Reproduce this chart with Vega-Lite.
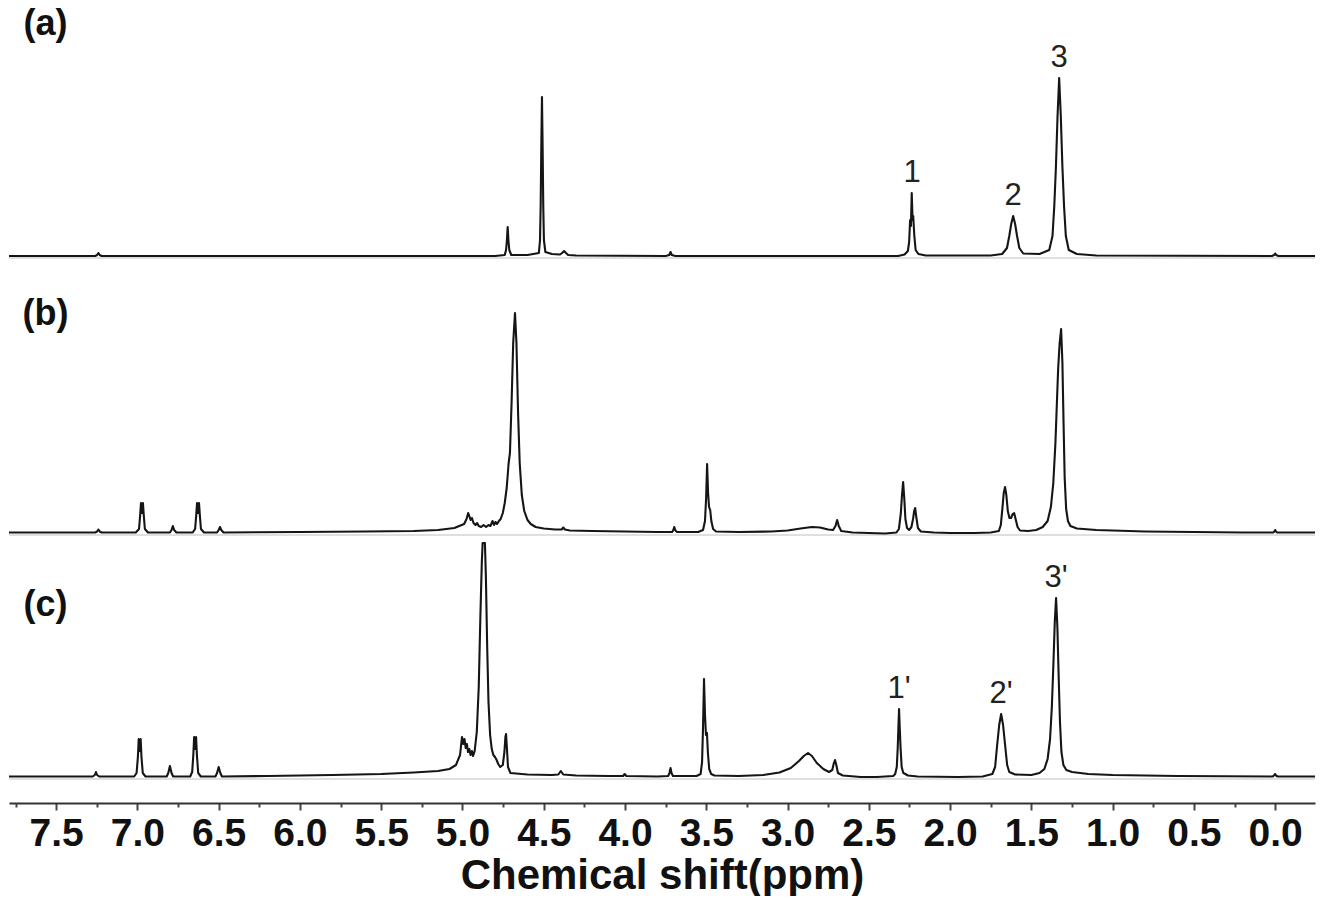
{
  "$schema": "https://vega.github.io/schema/vega-lite/v6.json",
  "background": "white",
  "padding": {"left": 7, "right": 7, "top": 0, "bottom": 0},
  "spacing": 0,
  "config": {"view": {"stroke": null}, "concat": {"spacing": 0}},
  "datasets": {
    "a": [
      {"ppm": 7.79, "intensity": 0}, {"ppm": 7.26, "intensity": 0}, {"ppm": 7.248, "intensity": 1}, {"ppm": 7.24, "intensity": 3}, {"ppm": 7.232, "intensity": 1}, {"ppm": 7.22, "intensity": 0},
      {"ppm": 4.80, "intensity": 0}, {"ppm": 4.74, "intensity": 1}, {"ppm": 4.732, "intensity": 6}, {"ppm": 4.727, "intensity": 15}, {"ppm": 4.722, "intensity": 29}, {"ppm": 4.717, "intensity": 15}, {"ppm": 4.712, "intensity": 6}, {"ppm": 4.70, "intensity": 1},
      {"ppm": 4.60, "intensity": 1}, {"ppm": 4.53, "intensity": 3}, {"ppm": 4.523, "intensity": 16}, {"ppm": 4.519, "intensity": 50}, {"ppm": 4.515, "intensity": 110}, {"ppm": 4.511, "intensity": 159}, {"ppm": 4.507, "intensity": 110}, {"ppm": 4.503, "intensity": 50}, {"ppm": 4.499, "intensity": 16}, {"ppm": 4.49, "intensity": 4}, {"ppm": 4.45, "intensity": 2},
      {"ppm": 4.40, "intensity": 1.5}, {"ppm": 4.387, "intensity": 3}, {"ppm": 4.375, "intensity": 5}, {"ppm": 4.363, "intensity": 3}, {"ppm": 4.35, "intensity": 1}, {"ppm": 4.30, "intensity": 0.5},
      {"ppm": 3.75, "intensity": 0}, {"ppm": 3.728, "intensity": 1}, {"ppm": 3.72, "intensity": 4}, {"ppm": 3.712, "intensity": 1}, {"ppm": 3.69, "intensity": 0},
      {"ppm": 2.32, "intensity": 0}, {"ppm": 2.28, "intensity": 1.5}, {"ppm": 2.26, "intensity": 5}, {"ppm": 2.252, "intensity": 14}, {"ppm": 2.246, "intensity": 36}, {"ppm": 2.241, "intensity": 30}, {"ppm": 2.236, "intensity": 63}, {"ppm": 2.231, "intensity": 36}, {"ppm": 2.227, "intensity": 40}, {"ppm": 2.22, "intensity": 20}, {"ppm": 2.212, "intensity": 6}, {"ppm": 2.195, "intensity": 2}, {"ppm": 2.15, "intensity": 0.5},
      {"ppm": 1.75, "intensity": 0.5}, {"ppm": 1.68, "intensity": 2}, {"ppm": 1.65, "intensity": 8}, {"ppm": 1.636, "intensity": 20}, {"ppm": 1.624, "intensity": 32}, {"ppm": 1.612, "intensity": 40}, {"ppm": 1.600, "intensity": 32}, {"ppm": 1.588, "intensity": 20}, {"ppm": 1.574, "intensity": 8}, {"ppm": 1.55, "intensity": 2.5},
      {"ppm": 1.45, "intensity": 2}, {"ppm": 1.39, "intensity": 6}, {"ppm": 1.37, "intensity": 20}, {"ppm": 1.359, "intensity": 50}, {"ppm": 1.349, "intensity": 89}, {"ppm": 1.339, "intensity": 140}, {"ppm": 1.329, "intensity": 178}, {"ppm": 1.319, "intensity": 140}, {"ppm": 1.309, "intensity": 89}, {"ppm": 1.299, "intensity": 50}, {"ppm": 1.288, "intensity": 20}, {"ppm": 1.27, "intensity": 6}, {"ppm": 1.22, "intensity": 2}, {"ppm": 1.1, "intensity": 0.5},
      {"ppm": 0.02, "intensity": 0}, {"ppm": 0.006, "intensity": 1}, {"ppm": 0.0, "intensity": 2.5}, {"ppm": -0.006, "intensity": 1}, {"ppm": -0.02, "intensity": 0}, {"ppm": -0.245, "intensity": 0}
    ],
    "b": [
      {"ppm": 7.79, "intensity": 0.5}, {"ppm": 7.26, "intensity": 0.5}, {"ppm": 7.248, "intensity": 1.5}, {"ppm": 7.24, "intensity": 3.5}, {"ppm": 7.232, "intensity": 1.5}, {"ppm": 7.22, "intensity": 0.5},
      {"ppm": 7.01, "intensity": 0.5}, {"ppm": 6.99, "intensity": 4}, {"ppm": 6.983, "intensity": 18}, {"ppm": 6.978, "intensity": 30}, {"ppm": 6.972, "intensity": 20}, {"ppm": 6.966, "intensity": 30}, {"ppm": 6.961, "intensity": 18}, {"ppm": 6.954, "intensity": 4}, {"ppm": 6.935, "intensity": 0.5},
      {"ppm": 6.80, "intensity": 0.5}, {"ppm": 6.79, "intensity": 3}, {"ppm": 6.782, "intensity": 7}, {"ppm": 6.774, "intensity": 3}, {"ppm": 6.76, "intensity": 0.5},
      {"ppm": 6.66, "intensity": 0.5}, {"ppm": 6.645, "intensity": 4}, {"ppm": 6.638, "intensity": 18}, {"ppm": 6.633, "intensity": 30}, {"ppm": 6.627, "intensity": 20}, {"ppm": 6.621, "intensity": 30}, {"ppm": 6.616, "intensity": 18}, {"ppm": 6.609, "intensity": 4}, {"ppm": 6.59, "intensity": 0.5},
      {"ppm": 6.51, "intensity": 0.5}, {"ppm": 6.50, "intensity": 3}, {"ppm": 6.492, "intensity": 6}, {"ppm": 6.484, "intensity": 3}, {"ppm": 6.47, "intensity": 0.5},
      {"ppm": 6.0, "intensity": 1}, {"ppm": 5.6, "intensity": 1.5}, {"ppm": 5.3, "intensity": 2}, {"ppm": 5.15, "intensity": 3}, {"ppm": 5.05, "intensity": 5}, {"ppm": 4.99, "intensity": 9}, {"ppm": 4.975, "intensity": 14}, {"ppm": 4.965, "intensity": 20}, {"ppm": 4.958, "intensity": 17}, {"ppm": 4.95, "intensity": 13}, {"ppm": 4.942, "intensity": 15}, {"ppm": 4.932, "intensity": 10}, {"ppm": 4.92, "intensity": 8}, {"ppm": 4.91, "intensity": 10}, {"ppm": 4.9, "intensity": 7}, {"ppm": 4.885, "intensity": 6}, {"ppm": 4.87, "intensity": 8}, {"ppm": 4.855, "intensity": 6}, {"ppm": 4.84, "intensity": 8}, {"ppm": 4.828, "intensity": 7}, {"ppm": 4.815, "intensity": 12}, {"ppm": 4.806, "intensity": 8}, {"ppm": 4.797, "intensity": 11}, {"ppm": 4.787, "intensity": 9}, {"ppm": 4.776, "intensity": 12}, {"ppm": 4.765, "intensity": 14}, {"ppm": 4.752, "intensity": 20}, {"ppm": 4.74, "intensity": 30}, {"ppm": 4.728, "intensity": 45}, {"ppm": 4.716, "intensity": 70}, {"ppm": 4.708, "intensity": 80}, {"ppm": 4.698, "intensity": 130}, {"ppm": 4.688, "intensity": 190}, {"ppm": 4.677, "intensity": 220}, {"ppm": 4.668, "intensity": 190}, {"ppm": 4.658, "intensity": 120}, {"ppm": 4.648, "intensity": 70}, {"ppm": 4.635, "intensity": 38}, {"ppm": 4.62, "intensity": 22}, {"ppm": 4.6, "intensity": 13}, {"ppm": 4.58, "intensity": 9}, {"ppm": 4.55, "intensity": 6}, {"ppm": 4.5, "intensity": 4.5}, {"ppm": 4.43, "intensity": 3.5}, {"ppm": 4.39, "intensity": 3.5}, {"ppm": 4.38, "intensity": 5.5}, {"ppm": 4.37, "intensity": 3.5}, {"ppm": 4.34, "intensity": 2.5}, {"ppm": 4.2, "intensity": 2}, {"ppm": 4.0, "intensity": 1.5}, {"ppm": 3.8, "intensity": 1},
      {"ppm": 3.71, "intensity": 1}, {"ppm": 3.703, "intensity": 3}, {"ppm": 3.697, "intensity": 6}, {"ppm": 3.69, "intensity": 2.5}, {"ppm": 3.68, "intensity": 1},
      {"ppm": 3.55, "intensity": 1}, {"ppm": 3.52, "intensity": 3}, {"ppm": 3.508, "intensity": 12}, {"ppm": 3.501, "intensity": 35}, {"ppm": 3.495, "intensity": 69}, {"ppm": 3.489, "intensity": 40}, {"ppm": 3.483, "intensity": 26}, {"ppm": 3.476, "intensity": 23}, {"ppm": 3.469, "intensity": 12}, {"ppm": 3.458, "intensity": 4}, {"ppm": 3.44, "intensity": 1.5},
      {"ppm": 3.3, "intensity": 1}, {"ppm": 3.1, "intensity": 1.5}, {"ppm": 3.0, "intensity": 2.5}, {"ppm": 2.92, "intensity": 4.5}, {"ppm": 2.85, "intensity": 6}, {"ppm": 2.8, "intensity": 5.5}, {"ppm": 2.75, "intensity": 3.5}, {"ppm": 2.72, "intensity": 3}, {"ppm": 2.705, "intensity": 7}, {"ppm": 2.695, "intensity": 13}, {"ppm": 2.685, "intensity": 7}, {"ppm": 2.67, "intensity": 2}, {"ppm": 2.6, "intensity": 0.5}, {"ppm": 2.5, "intensity": 0}, {"ppm": 2.4, "intensity": -0.5}, {"ppm": 2.33, "intensity": 0.5},
      {"ppm": 2.315, "intensity": 4}, {"ppm": 2.303, "intensity": 20}, {"ppm": 2.296, "intensity": 38}, {"ppm": 2.289, "intensity": 51}, {"ppm": 2.282, "intensity": 35}, {"ppm": 2.275, "intensity": 14}, {"ppm": 2.265, "intensity": 5}, {"ppm": 2.252, "intensity": 3}, {"ppm": 2.238, "intensity": 6}, {"ppm": 2.228, "intensity": 14}, {"ppm": 2.221, "intensity": 22}, {"ppm": 2.215, "intensity": 25}, {"ppm": 2.208, "intensity": 16}, {"ppm": 2.198, "intensity": 5}, {"ppm": 2.18, "intensity": 1.5}, {"ppm": 2.1, "intensity": 0.5}, {"ppm": 2.0, "intensity": 0}, {"ppm": 1.85, "intensity": 0}, {"ppm": 1.75, "intensity": 0.5},
      {"ppm": 1.70, "intensity": 2}, {"ppm": 1.688, "intensity": 8}, {"ppm": 1.678, "intensity": 25}, {"ppm": 1.67, "intensity": 40}, {"ppm": 1.662, "intensity": 46}, {"ppm": 1.654, "intensity": 38}, {"ppm": 1.645, "intensity": 22}, {"ppm": 1.635, "intensity": 15}, {"ppm": 1.625, "intensity": 15}, {"ppm": 1.615, "intensity": 19}, {"ppm": 1.606, "intensity": 20}, {"ppm": 1.597, "intensity": 14}, {"ppm": 1.585, "intensity": 6}, {"ppm": 1.57, "intensity": 2.5}, {"ppm": 1.52, "intensity": 2}, {"ppm": 1.47, "intensity": 3},
      {"ppm": 1.43, "intensity": 6}, {"ppm": 1.40, "intensity": 12}, {"ppm": 1.38, "intensity": 26}, {"ppm": 1.365, "intensity": 50}, {"ppm": 1.352, "intensity": 90}, {"ppm": 1.343, "intensity": 130}, {"ppm": 1.335, "intensity": 165}, {"ppm": 1.326, "intensity": 190}, {"ppm": 1.317, "intensity": 204}, {"ppm": 1.309, "intensity": 170}, {"ppm": 1.302, "intensity": 110}, {"ppm": 1.295, "intensity": 55}, {"ppm": 1.286, "intensity": 24}, {"ppm": 1.275, "intensity": 12}, {"ppm": 1.26, "intensity": 7}, {"ppm": 1.22, "intensity": 4.5}, {"ppm": 1.1, "intensity": 3}, {"ppm": 1.0, "intensity": 2.5}, {"ppm": 0.8, "intensity": 1.5}, {"ppm": 0.5, "intensity": 1}, {"ppm": 0.2, "intensity": 0.5},
      {"ppm": 0.012, "intensity": 0.5}, {"ppm": 0.005, "intensity": 1.5}, {"ppm": 0.0, "intensity": 3}, {"ppm": -0.005, "intensity": 1.5}, {"ppm": -0.012, "intensity": 0.5}, {"ppm": -0.245, "intensity": 0.5}
    ],
    "c": [
      {"ppm": 7.79, "intensity": 0.5}, {"ppm": 7.275, "intensity": 0.5}, {"ppm": 7.262, "intensity": 2}, {"ppm": 7.255, "intensity": 5}, {"ppm": 7.248, "intensity": 2}, {"ppm": 7.235, "intensity": 0.5},
      {"ppm": 7.02, "intensity": 0.5}, {"ppm": 7.005, "intensity": 4}, {"ppm": 6.997, "intensity": 20}, {"ppm": 6.992, "intensity": 38}, {"ppm": 6.986, "intensity": 26}, {"ppm": 6.98, "intensity": 38}, {"ppm": 6.975, "intensity": 20}, {"ppm": 6.967, "intensity": 4}, {"ppm": 6.95, "intensity": 0.5},
      {"ppm": 6.82, "intensity": 0.5}, {"ppm": 6.81, "intensity": 4}, {"ppm": 6.80, "intensity": 11}, {"ppm": 6.79, "intensity": 4}, {"ppm": 6.78, "intensity": 0.5},
      {"ppm": 6.675, "intensity": 0.5}, {"ppm": 6.663, "intensity": 5}, {"ppm": 6.656, "intensity": 22}, {"ppm": 6.651, "intensity": 40}, {"ppm": 6.645, "intensity": 28}, {"ppm": 6.639, "intensity": 40}, {"ppm": 6.634, "intensity": 22}, {"ppm": 6.626, "intensity": 4}, {"ppm": 6.61, "intensity": 0.5},
      {"ppm": 6.52, "intensity": 0.5}, {"ppm": 6.51, "intensity": 4}, {"ppm": 6.50, "intensity": 10}, {"ppm": 6.49, "intensity": 4}, {"ppm": 6.48, "intensity": 0.5},
      {"ppm": 6.2, "intensity": 1}, {"ppm": 5.8, "intensity": 2}, {"ppm": 5.5, "intensity": 3}, {"ppm": 5.3, "intensity": 4.5}, {"ppm": 5.15, "intensity": 6}, {"ppm": 5.08, "intensity": 8}, {"ppm": 5.04, "intensity": 12}, {"ppm": 5.015, "intensity": 22}, {"ppm": 5.003, "intensity": 40}, {"ppm": 4.995, "intensity": 33}, {"ppm": 4.988, "intensity": 38}, {"ppm": 4.98, "intensity": 29}, {"ppm": 4.973, "intensity": 33}, {"ppm": 4.966, "intensity": 25}, {"ppm": 4.958, "intensity": 28}, {"ppm": 4.95, "intensity": 22}, {"ppm": 4.942, "intensity": 26}, {"ppm": 4.935, "intensity": 21}, {"ppm": 4.925, "intensity": 26}, {"ppm": 4.912, "intensity": 45}, {"ppm": 4.9, "intensity": 90}, {"ppm": 4.89, "intensity": 160}, {"ppm": 4.881, "intensity": 215}, {"ppm": 4.876, "intensity": 234}, {"ppm": 4.862, "intensity": 234}, {"ppm": 4.856, "intensity": 200}, {"ppm": 4.848, "intensity": 130}, {"ppm": 4.84, "intensity": 75}, {"ppm": 4.83, "intensity": 42}, {"ppm": 4.82, "intensity": 28}, {"ppm": 4.81, "intensity": 22}, {"ppm": 4.8, "intensity": 20}, {"ppm": 4.79, "intensity": 17}, {"ppm": 4.78, "intensity": 13}, {"ppm": 4.768, "intensity": 10}, {"ppm": 4.752, "intensity": 12}, {"ppm": 4.742, "intensity": 25}, {"ppm": 4.736, "intensity": 40}, {"ppm": 4.732, "intensity": 43}, {"ppm": 4.727, "intensity": 30}, {"ppm": 4.72, "intensity": 10}, {"ppm": 4.705, "intensity": 4}, {"ppm": 4.6, "intensity": 2.5}, {"ppm": 4.45, "intensity": 2}, {"ppm": 4.41, "intensity": 2.5}, {"ppm": 4.395, "intensity": 6}, {"ppm": 4.38, "intensity": 2.5}, {"ppm": 4.3, "intensity": 1.5}, {"ppm": 4.1, "intensity": 1},
      {"ppm": 4.012, "intensity": 1}, {"ppm": 4.002, "intensity": 3}, {"ppm": 3.992, "intensity": 1}, {"ppm": 3.8, "intensity": 0.5},
      {"ppm": 3.735, "intensity": 1}, {"ppm": 3.726, "intensity": 4}, {"ppm": 3.72, "intensity": 9}, {"ppm": 3.714, "intensity": 4}, {"ppm": 3.705, "intensity": 1},
      {"ppm": 3.56, "intensity": 1}, {"ppm": 3.535, "intensity": 3}, {"ppm": 3.526, "intensity": 15}, {"ppm": 3.52, "intensity": 50}, {"ppm": 3.514, "intensity": 98}, {"ppm": 3.508, "intensity": 62}, {"ppm": 3.502, "intensity": 42}, {"ppm": 3.496, "intensity": 44}, {"ppm": 3.49, "intensity": 24}, {"ppm": 3.482, "intensity": 8}, {"ppm": 3.47, "intensity": 3}, {"ppm": 3.45, "intensity": 1.5},
      {"ppm": 3.3, "intensity": 1}, {"ppm": 3.15, "intensity": 2}, {"ppm": 3.05, "intensity": 4.5}, {"ppm": 2.98, "intensity": 9}, {"ppm": 2.93, "intensity": 16}, {"ppm": 2.9, "intensity": 21}, {"ppm": 2.874, "intensity": 24}, {"ppm": 2.85, "intensity": 21}, {"ppm": 2.82, "intensity": 14}, {"ppm": 2.78, "intensity": 8}, {"ppm": 2.745, "intensity": 5}, {"ppm": 2.725, "intensity": 7}, {"ppm": 2.715, "intensity": 14}, {"ppm": 2.708, "intensity": 17}, {"ppm": 2.7, "intensity": 12}, {"ppm": 2.69, "intensity": 4}, {"ppm": 2.66, "intensity": 1.5}, {"ppm": 2.55, "intensity": 0}, {"ppm": 2.45, "intensity": 0}, {"ppm": 2.35, "intensity": 1},
      {"ppm": 2.338, "intensity": 3}, {"ppm": 2.328, "intensity": 10}, {"ppm": 2.322, "intensity": 30}, {"ppm": 2.318, "intensity": 50}, {"ppm": 2.314, "intensity": 68}, {"ppm": 2.31, "intensity": 50}, {"ppm": 2.305, "intensity": 30}, {"ppm": 2.298, "intensity": 10}, {"ppm": 2.288, "intensity": 4}, {"ppm": 2.275, "intensity": 3}, {"ppm": 2.26, "intensity": 1.5}, {"ppm": 2.2, "intensity": 0.5}, {"ppm": 1.95, "intensity": 0}, {"ppm": 1.8, "intensity": 0.5},
      {"ppm": 1.74, "intensity": 3}, {"ppm": 1.723, "intensity": 10}, {"ppm": 1.711, "intensity": 31}, {"ppm": 1.698, "intensity": 52}, {"ppm": 1.686, "intensity": 63}, {"ppm": 1.674, "intensity": 52}, {"ppm": 1.661, "intensity": 31}, {"ppm": 1.649, "intensity": 12}, {"ppm": 1.636, "intensity": 5}, {"ppm": 1.6, "intensity": 2.5}, {"ppm": 1.5, "intensity": 2}, {"ppm": 1.45, "intensity": 4},
      {"ppm": 1.42, "intensity": 8}, {"ppm": 1.40, "intensity": 18}, {"ppm": 1.385, "intensity": 38}, {"ppm": 1.374, "intensity": 70}, {"ppm": 1.364, "intensity": 115}, {"ppm": 1.356, "intensity": 155}, {"ppm": 1.348, "intensity": 179}, {"ppm": 1.34, "intensity": 150}, {"ppm": 1.332, "intensity": 100}, {"ppm": 1.324, "intensity": 55}, {"ppm": 1.315, "intensity": 25}, {"ppm": 1.303, "intensity": 12}, {"ppm": 1.285, "intensity": 7}, {"ppm": 1.25, "intensity": 5}, {"ppm": 1.15, "intensity": 3}, {"ppm": 1.0, "intensity": 2}, {"ppm": 0.6, "intensity": 1},
      {"ppm": 0.015, "intensity": 0.5}, {"ppm": 0.005, "intensity": 2}, {"ppm": 0.0, "intensity": 3}, {"ppm": -0.005, "intensity": 1.5}, {"ppm": -0.015, "intensity": 0.5}, {"ppm": -0.245, "intensity": 0.5}
    ],
    "labels": [
      {"s": "a", "ppm": 2.234, "h": 63, "t": "1"},
      {"s": "a", "ppm": 1.612, "h": 40, "t": "2"},
      {"s": "a", "ppm": 1.33, "h": 178, "t": "3"},
      {"s": "c", "ppm": 2.314, "h": 68, "t": "1'"},
      {"s": "c", "ppm": 1.686, "h": 63, "t": "2'"},
      {"s": "c", "ppm": 1.348, "h": 179, "t": "3'"}
    ]
  },
  "vconcat": [
    {
      "width": 1306, "height": 270,
      "layer": [
        {"data": {"values": [{}]}, "mark": {"type": "rule", "color": "#d4d4d4", "strokeWidth": 1.5},
         "encoding": {"y": {"datum": -2, "type": "quantitative", "scale": {"domain": [-14, 256], "nice": false, "zero": false}, "axis": null}}},
        {"data": {"name": "a"}, "mark": {"type": "line", "color": "#151515", "strokeWidth": 2.1, "strokeJoin": "round"},
         "encoding": {
           "x": {"field": "ppm", "type": "quantitative", "scale": {"domain": [-0.245, 7.79], "reverse": true, "nice": false, "zero": false}, "axis": null},
           "y": {"field": "intensity", "type": "quantitative", "scale": {"domain": [-14, 256], "nice": false, "zero": false}, "axis": null}}},
        {"data": {"name": "labels"}, "transform": [{"filter": "datum.s === 'a'"}],
         "mark": {"type": "text", "font": "Liberation Sans", "fontSize": 31, "color": "#222", "align": "center", "baseline": "alphabetic", "dy": -11},
         "encoding": {
           "x": {"field": "ppm", "type": "quantitative", "scale": {"domain": [-0.245, 7.79], "reverse": true, "nice": false, "zero": false}, "axis": null},
           "y": {"field": "h", "type": "quantitative", "scale": {"domain": [-14, 256], "nice": false, "zero": false}, "axis": null},
           "text": {"field": "t"}}},
        {"data": {"values": [{}]}, "mark": {"type": "text", "text": "(a)", "font": "Liberation Sans", "fontWeight": "bold", "fontSize": 36, "color": "#111", "align": "center", "baseline": "middle"},
         "encoding": {
           "x": {"datum": 7.566, "type": "quantitative", "scale": {"domain": [-0.245, 7.79], "reverse": true, "nice": false, "zero": false}, "axis": null},
           "y": {"datum": 232, "type": "quantitative", "scale": {"domain": [-14, 256], "nice": false, "zero": false}, "axis": null}}}
      ]
    },
    {
      "width": 1306, "height": 270,
      "layer": [
        {"data": {"values": [{}]}, "mark": {"type": "rule", "color": "#d4d4d4", "strokeWidth": 1.5},
         "encoding": {"y": {"datum": -2, "type": "quantitative", "scale": {"domain": [-7, 263], "nice": false, "zero": false}, "axis": null}}},
        {"data": {"name": "b"}, "mark": {"type": "line", "color": "#151515", "strokeWidth": 2.1, "strokeJoin": "round"},
         "encoding": {
           "x": {"field": "ppm", "type": "quantitative", "scale": {"domain": [-0.245, 7.79], "reverse": true, "nice": false, "zero": false}, "axis": null},
           "y": {"field": "intensity", "type": "quantitative", "scale": {"domain": [-7, 263], "nice": false, "zero": false}, "axis": null}}},
        {"data": {"values": [{}]}, "mark": {"type": "text", "text": "(b)", "font": "Liberation Sans", "fontWeight": "bold", "fontSize": 36, "color": "#111", "align": "center", "baseline": "middle"},
         "encoding": {
           "x": {"datum": 7.566, "type": "quantitative", "scale": {"domain": [-0.245, 7.79], "reverse": true, "nice": false, "zero": false}, "axis": null},
           "y": {"datum": 219, "type": "quantitative", "scale": {"domain": [-7, 263], "nice": false, "zero": false}, "axis": null}}}
      ]
    },
    {
      "width": 1306, "height": 263,
      "resolve": {"axis": {"x": "independent"}},
      "layer": [
        {"data": {"values": [{}]}, "mark": {"type": "rule", "color": "#d4d4d4", "strokeWidth": 1.5},
         "encoding": {"y": {"datum": -2, "type": "quantitative", "scale": {"domain": [-26, 237], "nice": false, "zero": false}, "axis": null}}},
        {"data": {"name": "c"}, "mark": {"type": "line", "color": "#151515", "strokeWidth": 2.1, "strokeJoin": "round"},
         "encoding": {
           "x": {"field": "ppm", "type": "quantitative", "scale": {"domain": [-0.245, 7.79], "reverse": true, "nice": false, "zero": false},
                 "axis": {"orient": "bottom", "values": [0, 0.5, 1, 1.5, 2, 2.5, 3, 3.5, 4, 4.5, 5, 5.5, 6, 6.5, 7, 7.5], "format": ".1f",
                          "grid": false, "domainColor": "#333", "domainWidth": 2, "tickColor": "#444", "tickWidth": 2, "tickSize": 7,
                          "labelFont": "Liberation Sans", "labelFontWeight": "bold", "labelFontSize": 39, "labelColor": "#111", "labelPadding": 4,
                          "labelOverlap": false, "labelFlush": false,
                          "title": "Chemical shift(ppm)", "titleFont": "Liberation Sans", "titleFontSize": 42, "titleFontWeight": "bold", "titleColor": "#111", "titlePadding": 2}},
           "y": {"field": "intensity", "type": "quantitative", "scale": {"domain": [-26, 237], "nice": false, "zero": false}, "axis": null}}},
        {"data": {"name": "labels"}, "transform": [{"filter": "datum.s === 'c'"}],
         "mark": {"type": "text", "font": "Liberation Sans", "fontSize": 31, "color": "#222", "align": "center", "baseline": "alphabetic", "dy": -11},
         "encoding": {
           "x": {"field": "ppm", "type": "quantitative", "scale": {"domain": [-0.245, 7.79], "reverse": true, "nice": false, "zero": false},
                 "axis": {"orient": "bottom", "values": [0.25, 0.75, 1.25, 1.75, 2.25, 2.75, 3.25, 3.75, 4.25, 4.75, 5.25, 5.75, 6.25, 6.75, 7.25, 7.75],
                          "labels": false, "domain": false, "grid": false, "ticks": true, "tickColor": "#444", "tickWidth": 2, "tickSize": 4, "title": null}},
           "y": {"field": "h", "type": "quantitative", "scale": {"domain": [-26, 237], "nice": false, "zero": false}, "axis": null},
           "text": {"field": "t"}}},
        {"data": {"values": [{}]}, "mark": {"type": "text", "text": "(c)", "font": "Liberation Sans", "fontWeight": "bold", "fontSize": 36, "color": "#111", "align": "center", "baseline": "middle"},
         "encoding": {
           "x": {"datum": 7.566, "type": "quantitative", "scale": {"domain": [-0.245, 7.79], "reverse": true, "nice": false, "zero": false}, "axis": null},
           "y": {"datum": 172, "type": "quantitative", "scale": {"domain": [-26, 237], "nice": false, "zero": false}, "axis": null}}}
      ]
    }
  ]
}
